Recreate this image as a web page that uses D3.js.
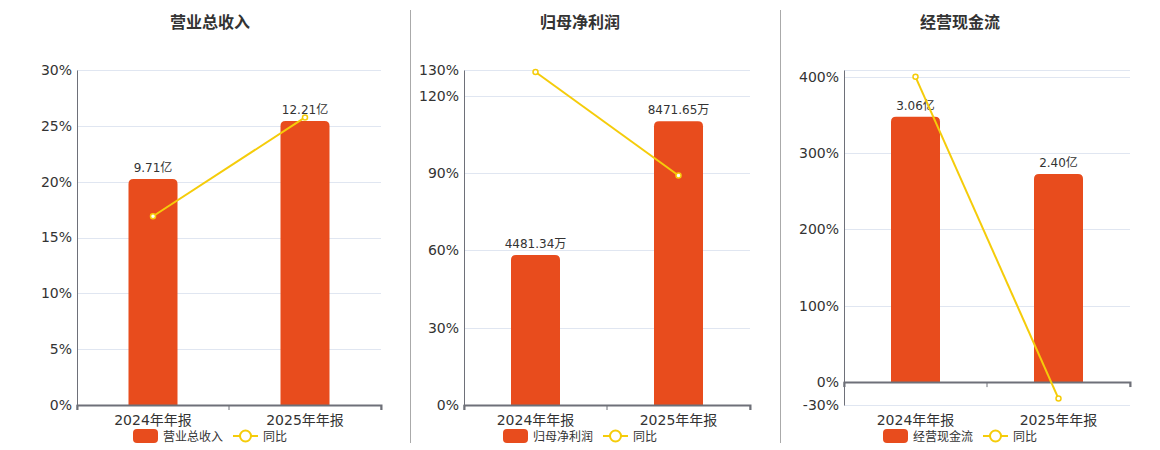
<!DOCTYPE html>
<html>
<head>
<meta charset="utf-8">
<script src="https://cdn.jsdelivr.net/npm/d3@7"></script>
<style>
  body { margin: 0; background: #fff; }
  svg { font-family: "DejaVu Sans", "Noto Sans CJK SC", sans-serif; }
</style>
</head>
<body>
<div id="chart"></div>
<script>
const categories = ["2024年年报", "2025年年报"];

const revenueValues = [9.71, 12.21];
const revenueLabels = ["9.71亿", "12.21亿"];
const revenueYoy = [16.9, 25.75];
const revenueTicks = [0, 5, 10, 15, 20, 25, 30];

const profitValues = [4481.34, 8471.65];
const profitLabels = ["4481.34万", "8471.65万"];
const profitYoy = [129.2, 89.04];
const profitTicks = [0, 30, 60, 90, 120, 130];

const cashValues = [3.06, 2.40];
const cashLabels = ["3.06亿", "2.40亿"];
const cashYoy = [400, -21.6];
const cashTicks = [-30, 0, 100, 200, 300, 400];

const barColor = "#e84c1d";
const lineColor = "#f5cc0a";

const panels = [
  { title: "营业总收入", name: "营业总收入", values: revenueValues, labels: revenueLabels, yoy: revenueYoy,
    ticks: revenueTicks, pctDomain: [0, 30], barDomain: [0, 14.4], left: 77, right: 381, cx: 210 },
  { title: "归母净利润", name: "归母净利润", values: profitValues, labels: profitLabels, yoy: profitYoy,
    ticks: profitTicks, pctDomain: [0, 130], barDomain: [0, 10000], left: 464, right: 750, cx: 580 },
  { title: "经营现金流", name: "经营现金流", values: cashValues, labels: cashLabels, yoy: cashYoy,
    ticks: cashTicks, pctDomain: [-30, 409], barDomain: [-0.264, 3.6], left: 844, right: 1130, cx: 960 }
];

const width = 1160, height = 450;
const plotTop = 70, plotBottom = 405;

const svg = d3.select("#chart").append("svg")
  .attr("width", width)
  .attr("height", height);

// separators
[410.5, 780.5].forEach(x => {
  svg.append("line")
    .attr("x1", x).attr("x2", x)
    .attr("y1", 10).attr("y2", 443)
    .attr("stroke", "#aaa")
    .attr("stroke-width", 1);
});

panels.forEach(p => {
  const g = svg.append("g");

  const x = d3.scaleBand()
    .domain(categories)
    .range([p.left, p.right]);

  const yPct = d3.scaleLinear().domain(p.pctDomain).range([plotBottom, plotTop]);
  const yBar = d3.scaleLinear().domain(p.barDomain).range([plotBottom, plotTop]);

  // title
  g.append("text")
    .attr("x", p.cx)
    .attr("y", 28)
    .attr("text-anchor", "middle")
    .style("font-size", "16px")
    .style("font-weight", "bold")
    .style("fill", "#333")
    .text(p.title);

  // grid
  const gridVals = p.ticks.concat([p.pctDomain[1]]);
  g.selectAll(".grid")
    .data(gridVals)
    .enter()
    .append("line")
    .attr("x1", p.left).attr("x2", p.right)
    .attr("y1", d => Math.round(yPct(d)) + 0.5)
    .attr("y2", d => Math.round(yPct(d)) + 0.5)
    .attr("stroke", "#e0e6f1");

  // y axis
  const yAxis = g.append("g")
    .attr("transform", `translate(${p.left},0)`)
    .call(d3.axisLeft(yPct).tickValues(p.ticks).tickSize(0).tickPadding(5).tickFormat(d => d + "%"));
  yAxis.select(".domain").attr("stroke", "#6e7079");
  yAxis.selectAll("text")
    .style("font-size", "14px")
    .style("fill", "#333")
    .attr("font-family", null);
  yAxis.attr("font-family", null);

  // bars
  const bw = 49;
  g.selectAll(".bar")
    .data(p.values)
    .enter()
    .append("path")
    .attr("d", (d, i) => {
      const cx = x(categories[i]) + x.bandwidth() / 2;
      const x0 = cx - bw / 2, x1 = cx + bw / 2;
      const y0 = yBar(0), y1 = yBar(d);
      const r = 5;
      return `M${x0},${y0}V${y1 + r}Q${x0},${y1} ${x0 + r},${y1}H${x1 - r}Q${x1},${y1} ${x1},${y1 + r}V${y0}Z`;
    })
    .attr("fill", barColor);

  // bar labels
  g.selectAll(".blabel")
    .data(p.values)
    .enter()
    .append("text")
    .attr("x", (d, i) => x(categories[i]) + x.bandwidth() / 2)
    .attr("y", d => yBar(d) - 7)
    .attr("text-anchor", "middle")
    .style("font-size", "12px")
    .style("fill", "#333")
    .text((d, i) => p.labels[i]);

  // x axis at zero
  const xAxis = g.append("g")
    .attr("transform", `translate(0,${yPct(0)})`)
    .call(d3.axisBottom(x).tickSize(5).tickFormat(""));
  xAxis.select(".domain").attr("stroke", "#6e7079").attr("stroke-width", 2);
  xAxis.selectAll(".tick").remove();
  [p.left, (p.left + p.right) / 2, p.right].forEach(tx => {
    xAxis.append("line")
      .attr("x1", tx).attr("x2", tx)
      .attr("y1", 0).attr("y2", 5)
      .attr("stroke", "#6e7079");
  });

  // x labels
  g.selectAll(".xlabel")
    .data(categories)
    .enter()
    .append("text")
    .attr("x", d => x(d) + x.bandwidth() / 2)
    .attr("y", 425)
    .attr("text-anchor", "middle")
    .style("font-size", "14px")
    .style("fill", "#333")
    .text(d => d);

  // yoy line
  const line = d3.line()
    .x((d, i) => x(categories[i]) + x.bandwidth() / 2)
    .y(d => yPct(d));
  g.append("path")
    .datum(p.yoy)
    .attr("d", line)
    .attr("fill", "none")
    .attr("stroke", lineColor)
    .attr("stroke-width", 2);
  g.selectAll(".pt")
    .data(p.yoy)
    .enter()
    .append("circle")
    .attr("cx", (d, i) => x(categories[i]) + x.bandwidth() / 2)
    .attr("cy", d => yPct(d))
    .attr("r", 2.5)
    .attr("fill", "#fff")
    .attr("stroke", lineColor)
    .attr("stroke-width", 1.5);

  // legend
  const lx = p.cx - 77;
  const lg = g.append("g").attr("transform", `translate(${lx},436)`);
  lg.append("rect")
    .attr("x", 0).attr("y", -7)
    .attr("width", 25).attr("height", 14)
    .attr("rx", 4)
    .attr("fill", barColor);
  lg.append("text")
    .attr("x", 30).attr("y", 4.5)
    .style("font-size", "12px")
    .style("fill", "#333")
    .text(p.name);
  lg.append("line")
    .attr("x1", 100).attr("x2", 125)
    .attr("y1", 0).attr("y2", 0)
    .attr("stroke", lineColor)
    .attr("stroke-width", 2);
  lg.append("circle")
    .attr("cx", 112.5).attr("cy", 0)
    .attr("r", 5.5)
    .attr("fill", "#fff")
    .attr("stroke", lineColor)
    .attr("stroke-width", 2);
  lg.append("text")
    .attr("x", 130).attr("y", 4.5)
    .style("font-size", "12px")
    .style("fill", "#333")
    .text("同比");
});
</script>
</body>
</html>
